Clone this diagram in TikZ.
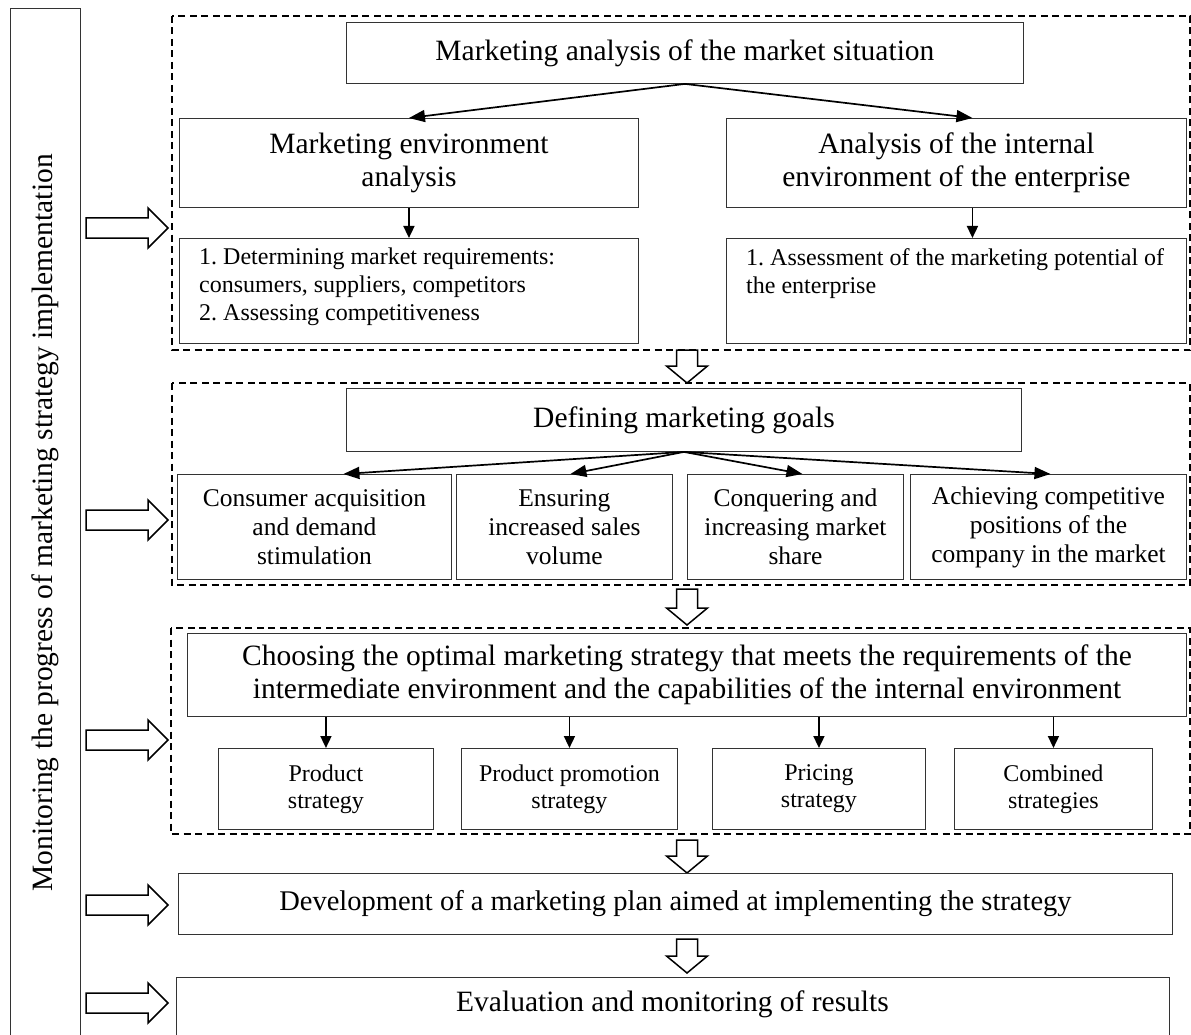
\documentclass[tikz,border=0pt]{standalone}
\usepackage{fontspec}
\setmainfont{Liberation Serif}
\usetikzlibrary{arrows.meta,calc}
\frenchspacing
\newcommand\mkbox[7]{\node[#6, anchor=north west, minimum width={(#4)-(#2)}, minimum height={(#5)-(#3)}] (#1) at (#2,#3) {#7};}
\newcommand\downblk[3]{\draw[blk] (#1-10.5,#2) -- (#1+10.5,#2) -- (#1+10.5,#3-17) -- (#1+20.5,#3-17) -- (#1,#3) -- (#1-20.5,#3-17) -- (#1-10.5,#3-17) -- cycle;}
\newcommand\rightblk[1]{\draw[blk] (86,#1-10) -- (148,#1-10) -- (148,#1-20) -- (168,#1) -- (148,#1+20) -- (148,#1+10) -- (86,#1+10) -- cycle;}
\tikzset{
  box/.style={draw=black!80, line width=0.9pt, inner sep=0pt, align=center, font=\fontsize{29.5}{33}\selectfont},
  devbox/.style={box, font=\fontsize{28.5}{32}\selectfont},
  itembox/.style={box, font=\fontsize{24}{28}\selectfont},
  goalbox/.style={box, font=\fontsize{25.5}{29}\selectfont},
  stratbox/.style={box, font=\fontsize{24}{27}\selectfont},
  txt/.style={inner sep=0pt},
  dashbox/.style={draw=black, line width=1.3pt, dash pattern=on 7pt off 4.5pt},
  blk/.style={draw=black, line width=1.5pt, fill=white, line join=miter},
  arr/.style={draw=black, line width=1.7pt, -{Triangle[length=16pt,width=12pt]}},
  sarr/.style={draw=black, line width=1.7pt, -{Triangle[length=12pt,width=11pt]}},
}
\begin{document}
\begin{tikzpicture}[x=1pt,y=-1pt]
\useasboundingbox (0,0) rectangle (1191,1035);
\clip (0,0) rectangle (1191,1035);
\fill[white] (0,0) rectangle (1191,1035);

% monitoring column
\mkbox{mon}{10}{8}{80}{1100}{box}{}
\node[txt, rotate=90, font=\fontsize{29.5}{33}\selectfont] (montxt) at (45,523) {Monitoring the progress of marketing strategy implementation};

% section 1
\draw[dashbox] (172,16) rectangle (1190,350);
\mkbox{top}{346}{22}{1023}{83}{box}{Marketing analysis of the market situation}
\mkbox{env}{179}{118}{638}{207}{box}{Marketing environment\\analysis}
\mkbox{int}{726}{118}{1186}{207}{box}{Analysis of the internal\\environment of the enterprise}
\mkbox{it1}{179}{238}{638}{343}{itembox}{}
\mkbox{it2}{726}{238}{1186}{343}{itembox}{}
\node[txt, anchor=north west, align=left, font=\fontsize{24}{28}\selectfont] (it1txt) at (199,248) {1. Determining market requirements:\\consumers, suppliers, competitors\\2. Assessing competitiveness};
\node[txt, anchor=north west, align=left, font=\fontsize{24}{28}\selectfont] (it2txt) at (746,248) {1. Assessment of the marketing potential of\\the enterprise};
\draw[arr] (top.south) -- (env.north);
\draw[arr] (top.south) -- ([xshift=16pt]int.north);
\draw[sarr] (env.south) -- (it1.north);
\draw[sarr] ([xshift=16pt]int.south) -- ([xshift=16pt]it2.north);

\downblk{687}{350}{383}

% section 2
\draw[dashbox] (172,383) rectangle (1190,585);
\mkbox{goals}{346}{388}{1021}{451}{box}{Defining marketing goals}
\mkbox{g1}{177}{474}{451}{579}{goalbox}{Consumer acquisition\\and demand\\stimulation}
\mkbox{g2}{456}{474}{672}{579}{goalbox}{Ensuring\\increased sales\\volume}
\mkbox{g3}{687}{474}{903}{579}{goalbox}{Conquering and\\increasing market\\share}
\mkbox{g4}{910}{474}{1186}{579}{goalbox}{Achieving competitive\\positions of the\\company in the market}
\draw[arr] (goals.south) -- ([xshift=29pt]g1.north);
\draw[arr] (goals.south) -- ([xshift=6pt]g2.north);
\draw[arr] (goals.south) -- ([xshift=7pt]g3.north);
\draw[arr] (goals.south) -- ([xshift=2pt]g4.north);

\downblk{687}{589}{625}

% section 3
\draw[dashbox] (171,628) rectangle (1190,834);
\mkbox{choose}{187}{633}{1186}{716}{box}{Choosing the optimal marketing strategy that meets the requirements of the\\intermediate environment and the capabilities of the internal environment}
\mkbox{s1}{218}{748}{433}{829}{stratbox}{Product\\strategy}
\mkbox{s2}{461}{748}{677}{829}{stratbox}{Product promotion\\strategy}
\mkbox{s3}{712}{748}{925}{829}{stratbox}{Pricing\\strategy}
\mkbox{s4}{954}{748}{1152}{829}{stratbox}{Combined\\strategies}
\foreach \s in {s1,s2,s3,s4} \draw[sarr] (\s.north |- choose.south) -- (\s.north);

\downblk{687}{840}{873}

% development
\mkbox{dev}{178}{873}{1172}{934}{devbox}{Development of a marketing plan aimed at implementing the strategy}

\downblk{687}{939}{973}

% evaluation
\mkbox{eval}{176}{977}{1169}{1100}{box}{}
\node[txt, font=\fontsize{29.5}{33}\selectfont] (evaltxt) at (672.5,1004) {Evaluation and monitoring of results};

% left block arrows
\rightblk{228}
\rightblk{520}
\rightblk{740}
\rightblk{905}
\rightblk{1003}
\end{tikzpicture}
\end{document}
